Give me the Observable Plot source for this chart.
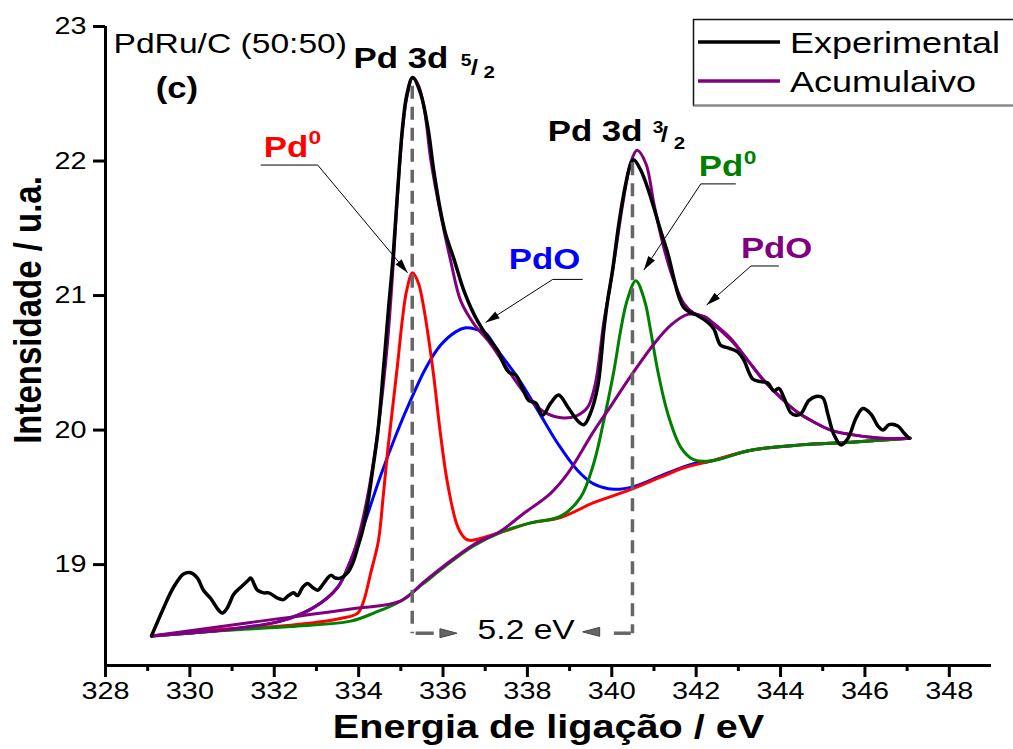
<!DOCTYPE html>
<html><head><meta charset="utf-8">
<script src="https://cdn.jsdelivr.net/npm/d3@7"></script>
<script src="https://cdn.jsdelivr.net/npm/@observablehq/plot@0.6"></script>
<style>
html,body{margin:0;padding:0;background:#fff;}
#chart{position:relative;width:1013px;height:749px;overflow:hidden;}
</style></head><body><div id="chart"></div>
<script>
// ---------- tick labels ----------
const xTicks = [328,330,332,334,336,338,340,342,344,346,348];
const xMinorTicks = [329,331,333,335,337,339,341,343,345,347];
const yTicks = [19,20,21,22,23];

// ---------- experimental spectrum (binding energy / eV, intensity / a.u.) ----------
const expEnergy = [329.09,329.38,329.61,329.85,330.02,330.18,330.32,330.49,330.66,330.77,330.89,331.04,331.20,331.37,331.44,331.60,331.75,331.87,332.08,332.22,332.34,332.46,332.55,332.67,332.79,332.91,333.03,333.17,333.34,333.45,333.57,333.74,333.86,333.98,334.09,334.21,334.33,334.45,334.59,334.71,334.81,334.92,335.04,335.14,335.28,335.47,335.64,335.78,335.94,336.06,336.25,336.49,336.66,336.82,337.06,337.30,337.44,337.56,337.72,337.91,338.03,338.20,338.36,338.55,338.74,338.96,339.19,339.34,339.50,339.67,339.81,339.90,340.02,340.17,340.33,340.45,340.52,340.69,340.85,341.00,341.16,341.33,341.47,341.59,341.71,341.83,342.04,342.28,342.42,342.58,342.77,342.99,343.13,343.34,343.53,343.70,343.84,343.96,344.08,344.24,344.36,344.48,344.67,344.84,345.00,345.12,345.26,345.43,345.60,345.79,345.95,346.14,346.31,346.43,346.57,346.78,346.92,347.04];
const expIntensity = [18.47,18.68,18.83,18.93,18.94,18.90,18.81,18.75,18.67,18.64,18.68,18.78,18.83,18.88,18.90,18.81,18.79,18.79,18.75,18.74,18.77,18.79,18.77,18.83,18.86,18.83,18.81,18.86,18.92,18.90,18.90,18.94,19.01,19.13,19.25,19.44,19.70,19.97,20.46,20.91,21.26,21.76,22.25,22.49,22.62,22.50,22.25,21.93,21.63,21.46,21.28,21.04,20.91,20.81,20.69,20.59,20.49,20.43,20.41,20.29,20.22,20.20,20.11,20.20,20.26,20.17,20.07,20.04,20.13,20.33,20.74,20.96,21.19,21.54,21.83,21.98,22.01,21.93,21.80,21.65,21.48,21.31,21.13,20.99,20.91,20.88,20.85,20.80,20.75,20.63,20.61,20.58,20.52,20.38,20.36,20.35,20.29,20.31,20.24,20.13,20.11,20.12,20.22,20.25,20.24,20.12,19.97,19.89,19.94,20.09,20.16,20.12,20.03,20.00,20.04,20.03,19.98,19.94];

// ---------- cumulative fit ----------
const cumulative = [[329.09,18.47],[330.96,18.52],[332.15,18.58],[332.93,18.68],[333.50,18.83],[333.81,19.03],[334.00,19.21],[334.17,19.44],[334.33,19.72],[334.47,20.03],[334.59,20.35],[334.69,20.67],[334.76,20.96],[334.83,21.28],[334.92,21.74],[335.04,22.23],[335.14,22.47],[335.28,22.62],[335.42,22.56],[335.56,22.38],[335.71,22.01],[335.94,21.61],[336.18,21.26],[336.42,20.96],[336.73,20.79],[337.13,20.64],[337.60,20.42],[338.08,20.22],[338.48,20.12],[338.86,20.09],[339.19,20.11],[339.43,20.17],[339.60,20.33],[339.69,20.50],[339.81,20.80],[339.95,21.05],[340.09,21.33],[340.28,21.72],[340.45,21.99],[340.60,22.08],[340.81,21.98],[341.00,21.68],[341.23,21.36],[341.47,21.11],[341.71,20.94],[341.94,20.87],[342.23,20.84],[342.35,20.81],[342.82,20.68],[343.22,20.52],[343.60,20.37],[344.01,20.24],[344.41,20.13],[344.79,20.06],[345.19,20.00],[345.60,19.97],[346.38,19.94],[347.07,19.94]];

// ---------- fitted components (each drawn on its background) ----------
const pd0_52 = [[329.09,18.47],[330.80,18.52],[332.39,18.55],[333.57,18.60],[333.98,18.64],[334.12,18.73],[334.28,18.93],[334.47,19.18],[334.58,19.50],[334.69,19.85],[334.81,20.18],[334.92,20.48],[335.04,20.83],[335.14,21.04],[335.28,21.17],[335.42,21.09],[335.52,20.95],[335.64,20.72],[335.78,20.40],[335.94,19.97],[336.11,19.60],[336.35,19.28],[336.54,19.19],[336.66,19.18],[337.37,19.24],[338.08,19.31],[338.79,19.35],[339.57,19.46],[340.38,19.55],[341.16,19.65],[341.71,19.72],[342.35,19.77],[343.30,19.85],[344.48,19.89],[345.67,19.91],[347.07,19.94]];
const pdo_52 = [[329.09,18.47],[330.96,18.52],[332.15,18.58],[332.93,18.68],[333.50,18.83],[333.81,19.03],[333.98,19.16],[334.24,19.40],[334.52,19.66],[334.88,19.96],[335.23,20.22],[335.59,20.46],[335.94,20.63],[336.30,20.73],[336.54,20.76],[336.77,20.75],[337.01,20.72],[337.30,20.59],[337.77,20.39],[338.24,20.15],[338.72,19.90],[339.19,19.70],[339.57,19.60],[340.05,19.56],[340.52,19.58],[341.16,19.66],[341.94,19.75],[342.35,19.77],[343.30,19.85],[344.48,19.89],[345.67,19.91],[347.07,19.94]];
const pd0_32 = [[329.09,18.47],[330.80,18.51],[332.39,18.54],[333.81,18.58],[334.36,18.64],[335.00,18.73],[335.54,18.86],[336.02,18.98],[336.73,19.14],[337.37,19.24],[338.08,19.31],[338.79,19.36],[339.26,19.50],[339.57,19.75],[339.81,20.07],[340.05,20.44],[340.21,20.74],[340.36,20.96],[340.57,21.11],[340.78,20.96],[340.92,20.74],[341.09,20.44],[341.33,20.12],[341.64,19.87],[341.94,19.78],[342.35,19.77],[343.30,19.85],[344.48,19.89],[345.67,19.91],[347.07,19.94]];
const pdo_32 = [[329.09,18.47],[331.44,18.57],[333.81,18.67],[335.00,18.73],[335.54,18.87],[336.02,18.99],[336.73,19.15],[337.37,19.25],[337.91,19.38],[338.55,19.53],[338.96,19.68],[339.57,19.99],[339.98,20.18],[340.38,20.37],[341.00,20.64],[341.40,20.78],[341.80,20.86],[342.11,20.85],[342.35,20.80],[342.82,20.67],[343.22,20.52],[343.60,20.37],[344.01,20.24],[344.41,20.13],[344.79,20.06],[345.19,20.00],[345.60,19.97],[346.38,19.94],[347.07,19.94]];

// ---------- annotations ----------
const labels = [
  {t:"PdRu/C (50:50)", x:328.19, y:22.80, c:"#000", s:28, w:"normal"},
  {t:"(c)", x:329.19, y:22.47, c:"#000", s:29, w:"bold"},
  {t:"Pd 3d", x:333.88, y:22.69, c:"#000", s:29, w:"bold"},
  {t:"5", x:336.42, y:22.71, c:"#000", s:16, w:"bold"},
  {t:"/", x:336.66, y:22.64, c:"#000", s:22, w:"bold"},
  {t:"2", x:336.96, y:22.62, c:"#000", s:17, w:"bold"},
  {t:"Pd 3d", x:338.48, y:22.15, c:"#000", s:29, w:"bold"},
  {t:"3", x:340.97, y:22.21, c:"#000", s:16, w:"bold"},
  {t:"/", x:341.16, y:22.14, c:"#000", s:22, w:"bold"},
  {t:"2", x:341.47, y:22.09, c:"#000", s:17, w:"bold"},
  {t:"Pd", x:331.75, y:22.03, c:"#ff0000", s:29, w:"bold"},
  {t:"0", x:332.81, y:22.13, c:"#ff0000", s:19, w:"bold"},
  {t:"PdO", x:337.56, y:21.20, c:"#0000ff", s:29, w:"bold"},
  {t:"Pd", x:342.06, y:21.89, c:"#008000", s:29, w:"bold"},
  {t:"0", x:343.13, y:21.98, c:"#008000", s:19, w:"bold"},
  {t:"PdO", x:343.06, y:21.28, c:"#800080", s:29, w:"bold"},
  {t:"5.2 eV", x:336.82, y:18.45, c:"#000", s:28, w:"normal"}
];
const underlines = [
  {x1:331.68, x2:333.03, y:21.97},
  {x1:338.60, x2:339.31, y:21.12},
  {x1:342.11, x2:342.94, y:21.83},
  {x1:343.30, x2:343.96, y:21.22}
];
const leaders = [
  {x1:333.03, y1:21.97, x2:335.16, y2:21.17},
  {x1:338.60, y1:21.12, x2:337.01, y2:20.80},
  {x1:342.11, y1:21.83, x2:340.76, y2:21.19},
  {x1:343.30, y1:21.22, x2:342.25, y2:20.93}
];
const peakLines = [{x:335.27, y1:22.56, y2:18.49}, {x:340.49, y1:21.99, y2:18.49}];
const splitDashes = [{x1:335.35, x2:335.78, y:18.49}, {x1:340.05, x2:340.45, y:18.49}];
const splitHeads = [{x:336.33, y:18.49, a:0}, {x:339.31, y:18.50, a:180}];
const legendItems = [{label:"Experimental", color:"#000000"}, {label:"Acumulaivo", color:"#800080"}];

// ---------- layout ----------
const W = 1013, H = 749, mL = 105, mR = 22, mT = 26, mB = 84;
const xDomain = [328, 349], yDomain = [18.25, 23];
const kx = (W - mL - mR) / (xDomain[1] - xDomain[0]);
const ky = (H - mT - mB) / (yDomain[1] - yDomain[0]);
const FONT = "'Liberation Sans', Arial, sans-serif";

const headSymbol = (L, Wd) => ({draw(ctx){ ctx.moveTo(0,0); ctx.lineTo(-L,-Wd/2); ctx.lineTo(-L,Wd/2); ctx.closePath(); }});
const angle = d => Math.atan2(-(d.y2 - d.y1) * ky, (d.x2 - d.x1) * kx) * 180 / Math.PI;

const line = (pts, color, w) => Plot.line(pts, {x: d => d[0], y: d => d[1], stroke: color, strokeWidth: w, curve: "catmull-rom", strokeLinejoin: "round"});
const expRows = expEnergy.map((x, i) => [x, expIntensity[i]]);

const plot = Plot.plot({
  width: W, height: H, marginLeft: mL, marginRight: mR, marginTop: mT, marginBottom: mB,
  x: {domain: xDomain}, y: {domain: yDomain},
  style: {fontFamily: FONT, background: "white", color: "black"},
  marks: [
    line(pdo_52, "#0000ff", 3),
    line(pd0_52, "#ff0000", 3),
    line(pd0_32, "#008000", 3),
    line(pdo_32, "#800080", 3),
    line(cumulative, "#800080", 3),
    line(expRows, "#000000", 3.5),
    Plot.link(peakLines, {x1: "x", x2: "x", y1: "y1", y2: "y2", stroke: "#666", strokeWidth: 3.5, strokeDasharray: "13,8"}),
    Plot.link(splitDashes, {x1: "x1", x2: "x2", y1: "y", y2: "y", stroke: "#666", strokeWidth: 3.5}),
    Plot.dot(splitHeads, {x: "x", y: "y", symbol: headSymbol(17, 9), rotate: "a", fill: "#666", stroke: "#444", strokeWidth: 1}),
    Plot.link(underlines, {x1: "x1", x2: "x2", y1: "y", y2: "y", stroke: "black", strokeWidth: 1}),
    Plot.link(leaders, {x1: "x1", y1: "y1", x2: "x2", y2: "y2", stroke: "black", strokeWidth: 1}),
    Plot.dot(leaders, {x: "x2", y: "y2", symbol: headSymbol(14, 8), rotate: angle, fill: "black", stroke: "none"}),
    ...labels.map(l => Plot.text([l], {x: "x", y: "y", text: "t", fill: l.c, fontSize: l.s, fontWeight: l.w, textAnchor: "start", lineAnchor: "bottom"})),
    Plot.ruleX([xDomain[0]], {strokeWidth: 3}),
    Plot.ruleY([yDomain[0]], {strokeWidth: 3}),
    Plot.axisX({ticks: xTicks, tickSize: 12, tickPadding: 4, fontSize: 24, strokeWidth: 3, label: null, tickFormat: d => String(d)}),
    Plot.axisX({ticks: xMinorTicks, tickSize: 6, strokeWidth: 3, label: null, tickFormat: () => ""}),
    Plot.axisY({ticks: yTicks, tickSize: 12, tickPadding: 7, fontSize: 24, strokeWidth: 3, label: null, tickFormat: d => String(d)}),
    Plot.text(["Energia de ligação / eV"], {text: d => d, frameAnchor: "bottom", dy: 72, lineAnchor: "bottom", fontSize: 33, fontWeight: "bold"})
  ]
});

document.getElementById("chart").appendChild(plot);
const svg = d3.select(plot);

// y-axis title (rotated)
svg.append("text")
  .attr("class", "ytitle")
  .attr("transform", "translate(27,310) rotate(-90) scale(1,1.2)")
  .attr("text-anchor", "middle").attr("dy", "0.36em")
  .attr("font-family", FONT).attr("font-size", 33).attr("font-weight", "bold").attr("fill", "#000")
  .text("Intensidade / u.a.");

// legend (top right, partly cut by the image edge)
const lg = svg.append("g").attr("font-family", FONT).attr("text-anchor", "start");
lg.append("rect").attr("x", 693.5).attr("y", 19.5).attr("width", 340).attr("height", 86)
  .attr("fill", "white").attr("stroke", "#111").attr("stroke-width", 1.5);
lg.append("line").attr("x1", 693.5).attr("x2", 1013).attr("y1", 105.5).attr("y2", 105.5).attr("stroke", "#888").attr("stroke-width", 2);
legendItems.forEach((it, i) => {
  const cy = 42 + i * 39;
  lg.append("line").attr("x1", 698).attr("x2", 780).attr("y1", cy).attr("y2", cy).attr("stroke", it.color).attr("stroke-width", 3.5);
  lg.append("text").attr("x", 790).attr("y", cy + 11).attr("font-size", 30).attr("fill", "#000").attr("text-anchor", "start").text(it.label);
});

// the reference's lettering is horizontally widened (~1.2x)
plot.querySelectorAll("text").forEach(t => {
  if (t.classList.contains("ytitle")) return;
  const L = t.getComputedTextLength();
  if (L > 0) { t.setAttribute("textLength", (L * 1.2).toFixed(1)); t.setAttribute("lengthAdjust", "spacingAndGlyphs"); }
});
</script>
</body></html>
